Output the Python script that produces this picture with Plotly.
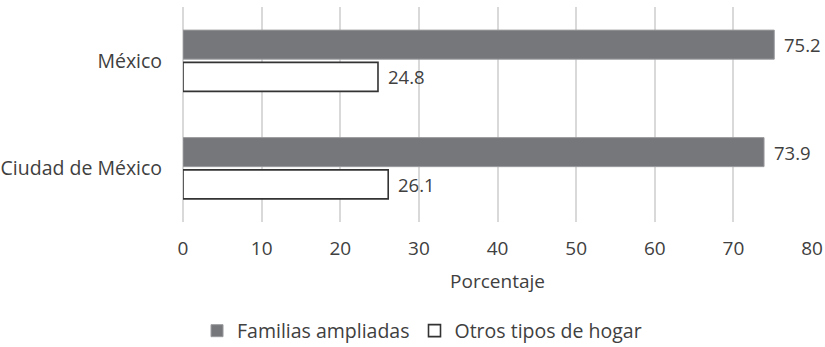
import plotly.graph_objects as go

# Tipo de hogar por entidad (porcentaje)
categorias = ["México", "Ciudad de México"]
familias_ampliadas = [75.2, 73.9]
otros_tipos = [24.8, 26.1]
ticks_x = [0, 10, 20, 30, 40, 50, 60, 70, 80]

FONT = "Open Sans"
TXT = "#404040"
GRIS = "#76777b"

fig = go.Figure()
fig.add_trace(go.Bar(
    y=categorias, x=familias_ampliadas, orientation="h",
    name="Familias ampliadas", offsetgroup="a",
    marker=dict(color=GRIS, line=dict(color="#9a9b9e", width=1)),
))
fig.add_trace(go.Bar(
    y=categorias, x=otros_tipos, orientation="h",
    name="Otros tipos de hogar", offsetgroup="b",
    marker=dict(color="white", line=dict(color="#333333", width=1.6)),
))

# Etiquetas de valor al final de cada barra
for serie, desplaz in ((familias_ampliadas, -0.15), (otros_tipos, 0.15)):
    for idx, val in enumerate(serie):
        fig.add_annotation(
            x=val, y=idx + desplaz, xref="x", yref="y",
            text=f"{val:.1f}", showarrow=False, xanchor="left", xshift=8,
            font=dict(size=18.5, color=TXT, family=FONT),
        )

fig.update_layout(
    width=825, height=347,
    margin=dict(l=183, r=13, t=7, b=125, autoexpand=False),
    paper_bgcolor="white", plot_bgcolor="white",
    barmode="group", bargap=0.4, bargroupgap=0.1,
    font=dict(family=FONT, size=19, color=TXT),
    xaxis=dict(
        range=[0, 80], tickvals=ticks_x,
        showgrid=True, gridcolor="#d9d9d9", gridwidth=1.5,
        zeroline=True, zerolinecolor="#d9d9d9", zerolinewidth=1.5,
        showline=False, ticks="outside", ticklen=9, tickcolor="rgba(0,0,0,0)",
        title=dict(text="Porcentaje", font=dict(size=19), standoff=14),
        tickfont=dict(size=19),
    ),
    yaxis=dict(
        autorange="reversed", showgrid=False, showline=False,
        ticks="outside", ticklen=16, tickcolor="rgba(0,0,0,0)",
        tickfont=dict(size=19.5),
    ),
    legend=dict(
        orientation="h", x=0.38, xanchor="center",
        yref="container", y=16 / 347, yanchor="middle",
        font=dict(size=19.5), itemwidth=30, traceorder="normal",
    ),
)

fig.write_html("out.html")
